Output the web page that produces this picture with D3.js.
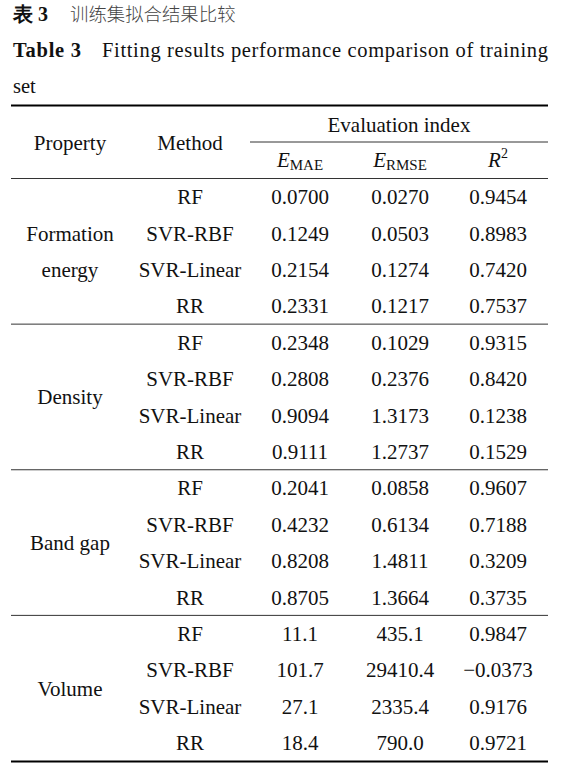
<!DOCTYPE html>
<html><head><meta charset="utf-8">
<script src="https://cdn.jsdelivr.net/npm/d3@7"></script>
<style>body{margin:0;background:#fff}</style>
</head><body>
<script>
const properties = ["Formation energy", "Density", "Band gap", "Volume"];
const propertyLines = [["Formation", "energy"], ["Density"], ["Band gap"], ["Volume"]];
const methods = ["RF", "SVR-RBF", "SVR-Linear", "RR"];
const maeValues = ["0.0700","0.1249","0.2154","0.2331","0.2348","0.2808","0.9094","0.9111","0.2041","0.4232","0.8208","0.8705","11.1","101.7","27.1","18.4"];
const rmseValues = ["0.0270","0.0503","0.1274","0.1217","0.1029","0.2376","1.3173","1.2737","0.0858","0.6134","1.4811","1.3664","435.1","29410.4","2335.4","790.0"];
const r2Values = ["0.9454","0.8983","0.7420","0.7537","0.9315","0.8420","0.1238","0.1529","0.9607","0.7188","0.3209","0.3735","0.9847","\u22120.0373","0.9176","0.9721"];
const titleCN = ["表 3", "训练集拟合结果比较"];
const titleEN = ["Table 3", "Fitting results performance comparison of training", "set"];

const W = 572, H = 778;
const svg = d3.select("body").append("svg").attr("width", W).attr("height", H);
const serif = "'Liberation Serif','Times New Roman',serif";
const fs = 21;

// Titles
svg.append("text").attr("x", 13).attr("y", 21).attr("font-family", serif).attr("font-weight", "bold")
  .attr("font-size", 20).attr("fill", "#111").text(titleCN[0]);
svg.append("text").attr("x", 70).attr("y", 21).attr("font-family", "'Noto Sans CJK SC',sans-serif").attr("font-weight", 300)
  .attr("font-size", 18.4).attr("fill", "#444").text(titleCN[1]);
svg.append("text").attr("x", 13).attr("y", 57).attr("font-family", serif).attr("font-weight", "bold")
  .attr("font-size", 20.5).attr("fill", "#111").attr("textLength", 68).attr("lengthAdjust", "spacing").text(titleEN[0]);
svg.append("text").attr("x", 102).attr("y", 57).attr("font-family", serif)
  .attr("font-size", 20.5).attr("fill", "#111").attr("textLength", 446).attr("lengthAdjust", "spacing").text(titleEN[1]);
svg.append("text").attr("x", 13).attr("y", 93).attr("font-family", serif)
  .attr("font-size", 20.5).attr("fill", "#111").text(titleEN[2]);

// Scales
const cols = ["property", "method", "mae", "rmse", "r2"];
const x = d3.scaleOrdinal().domain(cols).range([70, 190, 300, 400, 498]);
const rows = d3.range(properties.length * methods.length);
const y = d3.scaleBand().domain(rows).range([178.5, 761]);
const left = 11, right = 548;

// Lines
function hline(y0, x0, x1, w, c) {
  svg.append("line").attr("x1", x0).attr("x2", x1).attr("y1", y0).attr("y2", y0)
    .attr("stroke", c).attr("stroke-width", w);
}
hline(105.5, left, right, 2.2, "#000");
hline(142, 250, right, 1, "#333");
hline(178.5, left, right, 1, "#333");
properties.forEach((p, i) => {
  if (i > 0) hline(y(i * methods.length), left, right, 1, "#333");
});
hline(761.5, left, right, 2.2, "#000");

// Header
const hdr = svg.append("g").attr("font-family", serif).attr("font-size", fs).attr("fill", "#111").attr("text-anchor", "middle");
hdr.append("text").attr("x", x("property")).attr("y", 150).text("Property");
hdr.append("text").attr("x", x("method")).attr("y", 150).text("Method");
hdr.append("text").attr("x", (x("mae") + x("r2")) / 2).attr("y", 132).text("Evaluation index");
const e1 = hdr.append("text").attr("x", x("mae")).attr("y", 167);
e1.append("tspan").attr("font-style", "italic").text("E");
e1.append("tspan").attr("font-size", 15).attr("dy", 3).text("MAE");
const e2 = hdr.append("text").attr("x", x("rmse")).attr("y", 167);
e2.append("tspan").attr("font-style", "italic").text("E");
e2.append("tspan").attr("font-size", 15).attr("dy", 3).text("RMSE");
const e3 = hdr.append("text").attr("x", x("r2")).attr("y", 167);
e3.append("tspan").attr("font-style", "italic").text("R");
e3.append("tspan").attr("font-size", 14).attr("dy", -9).text("2");

// Body
const body = svg.append("g").attr("font-family", serif).attr("font-size", fs).attr("fill", "#111").attr("text-anchor", "middle");
const bw = y.bandwidth();
const off = 7.5;
rows.forEach(r => {
  const cy = y(r) + bw / 2 + off;
  body.append("text").attr("x", x("method")).attr("y", cy).text(methods[r % methods.length]);
  body.append("text").attr("x", x("mae")).attr("y", cy).text(maeValues[r]);
  body.append("text").attr("x", x("rmse")).attr("y", cy).text(rmseValues[r]);
  body.append("text").attr("x", x("r2")).attr("y", cy).text(r2Values[r]);
});
propertyLines.forEach((lines, i) => {
  const gy = y(i * methods.length) + bw * methods.length / 2;
  lines.forEach((t, k) => {
    const yy = gy + (k - (lines.length - 1) / 2) * bw + off;
    body.append("text").attr("x", x("property")).attr("y", yy).text(t);
  });
});
</script>
</body></html>
